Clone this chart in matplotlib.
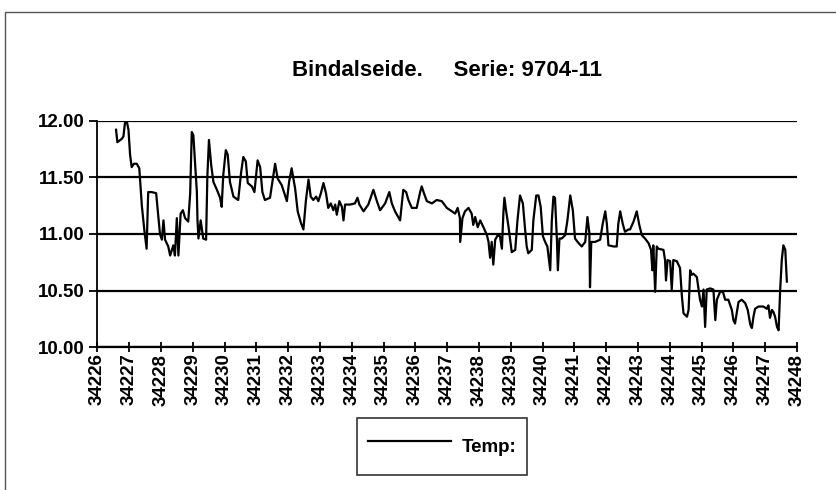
import matplotlib
matplotlib.use("Agg")
import matplotlib.pyplot as plt
from matplotlib.patches import Rectangle
from matplotlib.ticker import FormatStrFormatter, MultipleLocator

# -------------------------------------------------------
# Données
# -------------------------------------------------------

titre = "Bindalseide.     Serie: 9704-11"
serie_nom = "Temp:"

dag = [
    34226.59, 34226.63, 34226.77, 34226.82, 34226.87, 34226.93, 34226.98, 34227.03,
    34227.08, 34227.15, 34227.24, 34227.32, 34227.40, 34227.48, 34227.55, 34227.60,
    34227.71, 34227.85, 34227.97, 34228.03, 34228.08, 34228.13, 34228.23, 34228.29,
    34228.39, 34228.44, 34228.50, 34228.55, 34228.62, 34228.69, 34228.76, 34228.86,
    34228.92, 34228.97, 34229.02, 34229.07, 34229.13, 34229.15, 34229.18, 34229.25,
    34229.33, 34229.42, 34229.46, 34229.51, 34229.58, 34229.65, 34229.76, 34229.86,
    34229.91, 34229.96, 34230.04, 34230.10, 34230.17, 34230.28, 34230.43, 34230.52,
    34230.59, 34230.67, 34230.73, 34230.86, 34230.94, 34231.04, 34231.12, 34231.19,
    34231.27, 34231.43, 34231.59, 34231.67, 34231.80, 34231.96, 34232.03, 34232.11,
    34232.22, 34232.30, 34232.40, 34232.48, 34232.56, 34232.64,
    34232.71, 34232.79, 34232.88, 34232.95, 34233.03, 34233.11, 34233.19, 34233.26,
    34233.34, 34233.42, 34233.48, 34233.53, 34233.61, 34233.69, 34233.74, 34233.79,
    34233.95, 34234.10, 34234.18, 34234.24, 34234.37, 34234.52, 34234.68, 34234.79,
    34234.89, 34235.05, 34235.18, 34235.26, 34235.36, 34235.52, 34235.62, 34235.71,
    34235.78, 34235.89, 34236.04, 34236.15, 34236.20, 34236.27, 34236.36, 34236.52,
    34236.67, 34236.83, 34236.99, 34237.15, 34237.25, 34237.33, 34237.40, 34237.41,
    34237.48, 34237.56, 34237.67, 34237.77, 34237.82, 34237.88, 34237.96, 34238.04,
    34238.14, 34238.25, 34238.30, 34238.35, 34238.40, 34238.45, 34238.51, 34238.59,
    34238.66, 34238.72, 34238.77, 34238.80, 34238.85, 34238.93, 34239.03, 34239.14,
    34239.21, 34239.29, 34239.38, 34239.45, 34239.50, 34239.55, 34239.66, 34239.71,
    34239.80, 34239.87, 34239.94, 34240.01, 34240.08, 34240.15, 34240.24, 34240.29,
    34240.34, 34240.39, 34240.45, 34240.48, 34240.53, 34240.60, 34240.71, 34240.78,
    34240.87, 34240.95, 34241.02, 34241.13, 34241.23, 34241.34, 34241.41, 34241.47,
    34241.49, 34241.53, 34241.65, 34241.81, 34241.89, 34241.97, 34242.02, 34242.07,
    34242.23, 34242.33, 34242.38, 34242.44, 34242.52, 34242.59, 34242.70, 34242.75,
    34242.86, 34242.96, 34243.04, 34243.12, 34243.22, 34243.33, 34243.41, 34243.45,
    34243.48, 34243.54, 34243.59, 34243.64, 34243.80, 34243.85, 34243.88, 34243.93,
    34244.01, 34244.06, 34244.11, 34244.22, 34244.32, 34244.38, 34244.43, 34244.54,
    34244.59, 34244.64, 34244.69, 34244.74, 34244.85, 34244.95, 34245.01, 34245.06,
    34245.11, 34245.16, 34245.27, 34245.37, 34245.43, 34245.48, 34245.58, 34245.67,
    34245.74, 34245.84, 34245.95, 34246.00, 34246.05, 34246.16, 34246.26, 34246.37,
    34246.45, 34246.53, 34246.58, 34246.63, 34246.68, 34246.79, 34246.94, 34247.05,
    34247.10, 34247.15, 34247.21, 34247.26, 34247.31, 34247.37, 34247.42, 34247.47,
    34247.52, 34247.57, 34247.63, 34247.68,
]

temp = [
    11.92, 11.81, 11.84, 11.86, 11.98, 11.99, 11.92, 11.70,
    11.59, 11.62, 11.62, 11.58, 11.25, 11.03, 10.87, 11.37,
    11.37, 11.36, 11.00, 10.95, 11.12, 10.95, 10.89, 10.81,
    10.90, 10.81, 11.14, 10.81, 11.18, 11.21, 11.14, 11.11,
    11.36, 11.90, 11.87, 11.64, 11.37, 11.12, 10.96, 11.12,
    10.96, 10.95, 11.51, 11.83, 11.61, 11.46, 11.39, 11.32,
    11.24, 11.52, 11.74, 11.70, 11.46, 11.33, 11.30, 11.54,
    11.68, 11.64, 11.45, 11.42, 11.37, 11.65, 11.59, 11.37,
    11.30, 11.32, 11.62, 11.49, 11.43, 11.29, 11.46, 11.58,
    11.40, 11.20, 11.10, 11.04, 11.30, 11.48,
    11.33, 11.30, 11.33, 11.29, 11.36, 11.45, 11.36, 11.23,
    11.27, 11.21, 11.26, 11.17, 11.29, 11.24, 11.12, 11.26,
    11.26, 11.27, 11.32, 11.26, 11.20, 11.26, 11.39, 11.29,
    11.21, 11.27, 11.37, 11.27, 11.20, 11.12, 11.39, 11.37,
    11.30, 11.23, 11.23, 11.37, 11.42, 11.36, 11.29, 11.27,
    11.30, 11.29, 11.23, 11.20, 11.18, 11.23, 11.14, 10.93,
    11.14, 11.20, 11.23, 11.18, 11.08, 11.15, 11.06, 11.12,
    11.06, 10.99, 10.93, 10.79, 10.93, 10.73, 10.95, 10.99,
    10.98, 10.87, 11.20, 11.32, 11.21, 11.06, 10.84, 10.86,
    11.12, 11.34, 11.27, 11.04, 10.89, 10.83, 10.86, 11.12,
    11.34, 11.34, 11.24, 10.98, 10.93, 10.89, 10.68, 11.12,
    11.33, 11.32, 10.95, 10.68, 10.96, 10.96, 10.99, 11.12,
    11.34, 11.21, 10.96, 10.92, 10.89, 10.93, 11.15, 11.01,
    10.53, 10.93, 10.93, 10.95, 11.09, 11.20, 11.09, 10.90,
    10.89, 10.89, 11.09, 11.20, 11.09, 11.02, 11.04, 11.04,
    11.11, 11.20, 11.08, 10.99, 10.96, 10.92, 10.86, 10.68,
    10.90, 10.49, 10.89, 10.87, 10.86, 10.77, 10.59, 10.77,
    10.76, 10.51, 10.77, 10.76, 10.70, 10.45, 10.30, 10.27,
    10.33, 10.68, 10.64, 10.65, 10.62, 10.42, 10.36, 10.51,
    10.18, 10.51, 10.52, 10.51, 10.24, 10.42, 10.49, 10.49,
    10.42, 10.42, 10.33, 10.24, 10.21, 10.40, 10.42, 10.39,
    10.33, 10.20, 10.17, 10.27, 10.34, 10.36, 10.36, 10.34,
    10.37, 10.26, 10.33, 10.31, 10.27, 10.18, 10.15, 10.51,
    10.77, 10.90, 10.86, 10.58,
]

# -------------------------------------------------------
# Graphique
# -------------------------------------------------------

plt.rcParams["font.family"] = ["Liberation Sans", "DejaVu Sans"]
plt.rcParams["font.weight"] = "bold"

fig = plt.figure(figsize=(8.36, 4.9), dpi=100)

# cadre du graphique
fig.patches.append(Rectangle((5 / 836, -0.01), 1.0, 1 - 12 / 490 + 0.01,
                             transform=fig.transFigure, fill=False,
                             edgecolor="#555555", linewidth=1.0))

ax = fig.add_axes([0.1164, 0.2912, 0.837, 0.4625])

ax.plot(dag, temp, color="black", linewidth=1.6, label=serie_nom)

ax.set_xlim(34226, 34248)
ax.set_ylim(10.0, 12.0)
ax.xaxis.set_major_locator(MultipleLocator(1))
ax.yaxis.set_major_locator(MultipleLocator(0.5))
ax.xaxis.set_major_formatter(FormatStrFormatter("%d"))
ax.yaxis.set_major_formatter(FormatStrFormatter("%.2f"))

ax.grid(axis="y", color="black", linewidth=1.6)
ax.set_axisbelow(False)

for s in ["top", "right"]:
    ax.spines[s].set_visible(False)
ax.spines["left"].set_linewidth(1.3)
ax.spines["bottom"].set_linewidth(1.6)

ax.tick_params(axis="x", direction="inout", length=7, width=1.3,
               labelrotation=90, labelsize=13.5, pad=1)
ax.tick_params(axis="y", direction="out", length=6, width=1.3,
               labelsize=13.5, pad=3)

ax.set_title(titre, fontsize=16, fontweight="bold", pad=32)

leg = ax.legend(loc="upper center", bbox_to_anchor=(0.493, -0.313),
                frameon=True, fancybox=False, edgecolor="black",
                fontsize=13.5, handlelength=4.4, handleheight=2.4,
                borderpad=0.6, handletextpad=0.55, borderaxespad=0)
leg.get_frame().set_linewidth(1.2)

plt.savefig("out.png", dpi=100)
